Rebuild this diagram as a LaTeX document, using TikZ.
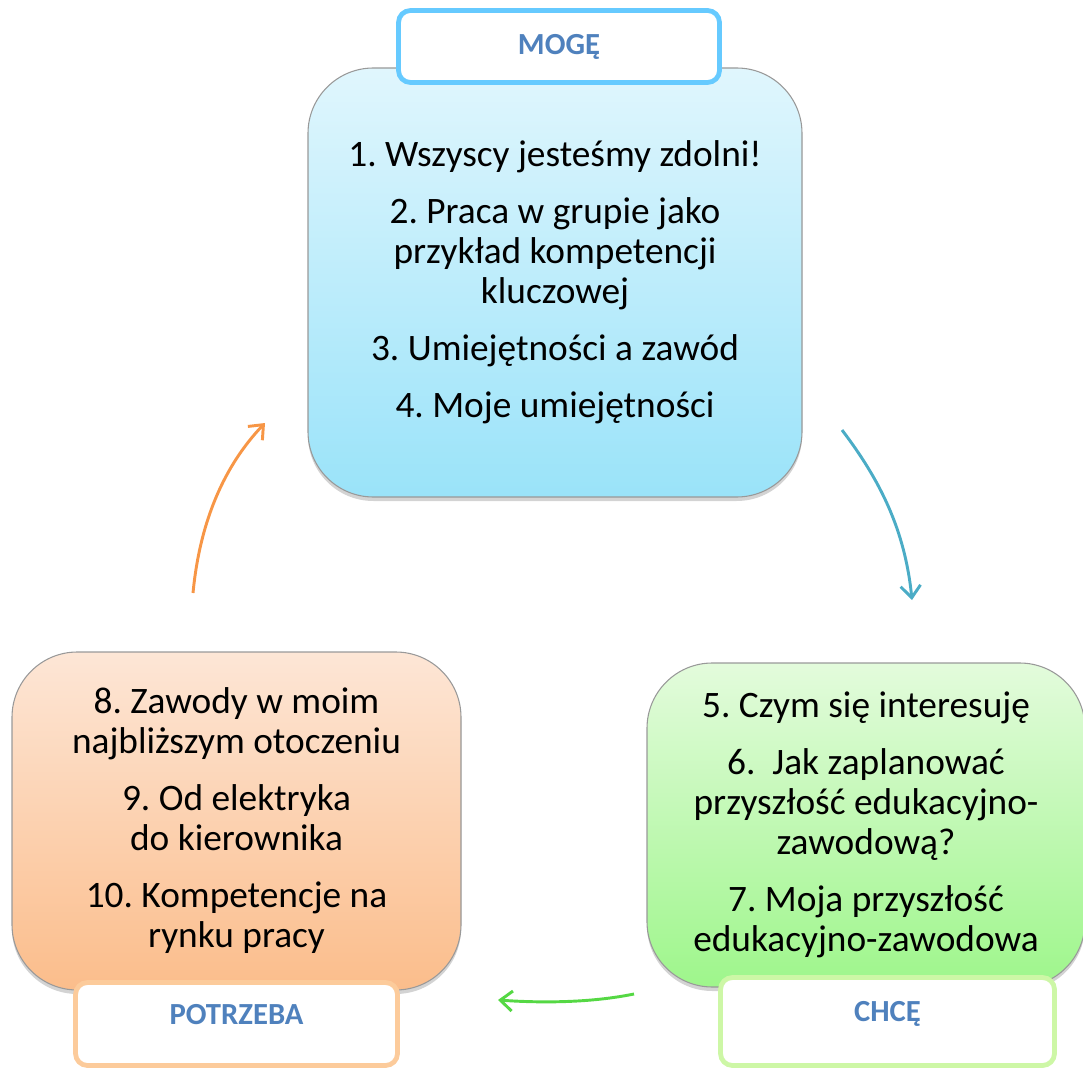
\documentclass[tikz,border=0pt]{standalone}
\usepackage{fontspec}
\setmainfont{Carlito}
\usepackage{tikz}
\usetikzlibrary{arrows.meta,shadows,positioning}
\definecolor{mogetop}{HTML}{E0F6FD}
\definecolor{mogebot}{HTML}{9AE3F9}
\definecolor{chcetop}{HTML}{E3FBDC}
\definecolor{chcebot}{HTML}{9EF68B}
\definecolor{potrtop}{HTML}{FDE6D6}
\definecolor{potrbot}{HTML}{FBBD8B}
\definecolor{tagblue}{HTML}{4F81BD}
\definecolor{mogeline}{HTML}{66CAFF}
\definecolor{chceline}{HTML}{CDF7A6}
\definecolor{potrline}{HTML}{FCCB9B}
\definecolor{arrorange}{HTML}{F79646}
\definecolor{arrblue}{HTML}{4BACC6}
\definecolor{arrgreen}{HTML}{55D844}
\tikzset{
  bigbox/.style={rounded corners=49pt,draw=gray!80,line width=0.8pt,
    align=center,inner sep=0pt,
    font=\fontsize{28}{30}\selectfont\frenchspacing,
    drop shadow={shadow xshift=0pt,shadow yshift=-3pt,opacity=.35,fill=gray}},
  tagbox/.style={rounded corners=9pt,fill=white,line width=3.6pt,
    font=\fontsize{23}{26}\selectfont\bfseries,text=tagblue,inner sep=0pt},
  lowtag/.style={text height=16pt,text depth=16pt},
  cycarrow/.style={line width=2.2pt,-{Straight Barb[length=9pt,width=15pt]}}
}
\newcommand{\gap}{\\[12.75pt]}

\begin{document}
\begin{tikzpicture}[x=0.75pt,y=-0.75pt]
  \useasboundingbox (0,0) rectangle (1083,1070);
  % main boxes
  \node[bigbox,top color=mogetop,bottom color=mogebot,
    minimum width=370.5pt,minimum height=321.75pt] (moge) at (555,282.5)
    {1. Wszyscy jesteśmy zdolni!\gap
     2. Praca w grupie jako\\ przykład kompetencji\\ kluczowej\gap
     3. Umiejętności a zawód\gap
     4. Moje umiejętności};
  \node[bigbox,top color=potrtop,bottom color=potrbot,
    minimum width=336.75pt,minimum height=253.5pt] (potrzeba) at (236.5,821)
    {8. Zawody w moim\\ najbliższym otoczeniu\gap
     9. Od elektryka\\ do kierownika\gap
     10. Kompetencje na\\ rynku pracy};
  \node[bigbox,top color=chcetop,bottom color=chcebot,
    minimum width=328.5pt,minimum height=243pt] (chce) at (866,825)
    {5. Czym się interesuję\gap
     6.~ Jak zaplanować\\ przyszłość edukacyjno-\\ zawodową?\gap
     7. Moja przyszłość\\ edukacyjno-zawodowa};
  % tags
  \node[tagbox,draw=mogeline,minimum width=240.75pt,minimum height=54pt]
    (mogetag) at (559,46.5) {MOGĘ};
  \node[tagbox,lowtag,draw=potrline,minimum width=241.5pt,minimum height=62.25pt]
    (potrtag) at (236.5,1024) {POTRZEBA};
  \node[tagbox,lowtag,draw=chceline,minimum width=250.5pt,minimum height=66pt]
    (chcetag) at (887.5,1021.5) {CHCĘ};
  % arrows
  \coordinate (o1) at (193,593);
  \coordinate (o2) at (265,423);
  \coordinate (b1) at (842,430);
  \coordinate (b2) at (912,600);
  \coordinate (g1) at (634,994);
  \coordinate (g2) at (498,1000);
  \draw[cycarrow,arrorange] (o1) .. controls (200,520) and (225,465) .. (o2);
  \draw[cycarrow,arrblue] (b1) .. controls (880,480) and (905,530) .. (b2);
  \draw[cycarrow,arrgreen] (g1) .. controls (590,1003) and (540,1003) .. (g2);
\end{tikzpicture}
\end{document}
